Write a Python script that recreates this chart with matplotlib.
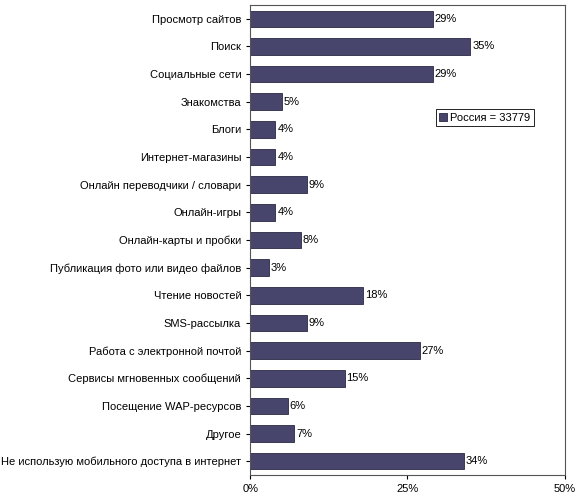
import matplotlib
matplotlib.use("Agg")
import matplotlib.pyplot as plt
from matplotlib.ticker import FuncFormatter

categories = ["Просмотр сайтов", "Поиск", "Социальные сети", "Знакомства", "Блоги",
              "Интернет-магазины", "Онлайн переводчики / словари", "Онлайн-игры",
              "Онлайн-карты и пробки", "Публикация фото или видео файлов", "Чтение новостей",
              "SMS-рассылка", "Работа с электронной почтой", "Сервисы мгновенных сообщений",
              "Посещение WAP-ресурсов", "Другое", "Не использую мобильного доступа в интернет"]
values = [29, 35, 29, 5, 4, 4, 9, 4, 8, 3, 18, 9, 27, 15, 6, 7, 34]

plt.rcParams['font.family'] = ['Liberation Sans', 'DejaVu Sans']
fig = plt.figure(figsize=(5.82, 5.0), dpi=100)
ax = fig.add_axes([0.43, 0.05, 0.54, 0.94])
y = list(range(len(categories)))
ax.barh(y, values, height=0.6, color="#47456b", edgecolor="#2a2944", linewidth=0.6,
        label="Россия = 33779")
for yi, v in zip(y, values):
    ax.text(v + 0.3, yi, f"{v}%", va="center", ha="left", fontsize=8)
ax.set_yticks(y)
ax.set_yticklabels(categories, fontsize=8)
ax.set_ylim(len(categories) - 0.5, -0.5)
ax.set_xlim(0, 50)
ax.set_xticks([0, 25, 50])
ax.xaxis.set_major_formatter(FuncFormatter(lambda v, p: f"{int(v)}%"))
ax.tick_params(axis='x', labelsize=8, length=3)
ax.tick_params(axis='y', length=3)
for s in ax.spines.values():
    s.set_color("#555555")
leg = ax.legend(loc="upper right", bbox_to_anchor=(0.92, 0.79), fontsize=8,
                fancybox=False, framealpha=1, edgecolor="black", handlelength=0.7,
                handleheight=0.7, borderpad=0.3, handletextpad=0.3)
leg.get_frame().set_linewidth(0.6)
fig.savefig("out.png", dpi=100)
